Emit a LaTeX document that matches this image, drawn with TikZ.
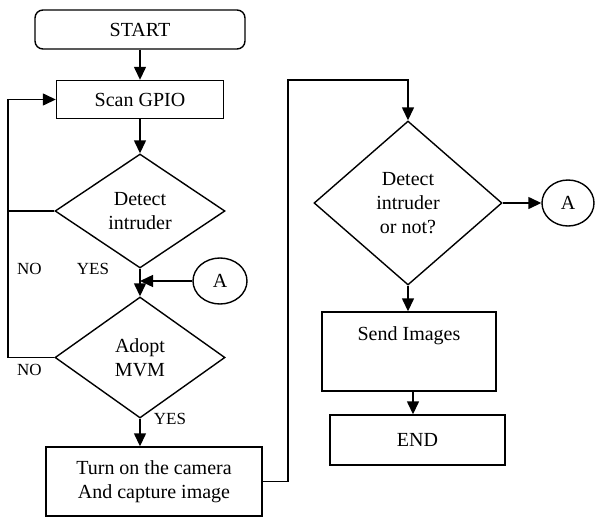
\documentclass[tikz,border=0pt]{standalone}
\usepackage{fontspec}
\setmainfont{Liberation Serif}
\usetikzlibrary{shapes.geometric,arrows.meta}
\begin{document}
\begin{tikzpicture}[x=1pt,y=-1pt,
  every node/.style={font=\fontsize{20}{24}\selectfont, align=center, inner sep=0pt},
  box/.style={draw, line width=1.4pt, rectangle},
  rbox/.style={draw, line width=1.4pt, rectangle, rounded corners=8pt},
  dia/.style={draw, line width=1.4pt, diamond},
  conn/.style={draw, line width=1.4pt, ellipse},
  lbl/.style={font=\fontsize{17}{20}\selectfont},
  line/.style={line width=1.4pt},
  arr/.style={line width=1.4pt, -{Triangle[length=13pt,width=12pt]}}]
\useasboundingbox (0,0) rectangle (595,517);
\node[rbox, minimum width=210pt, minimum height=39pt] (start) at (140,29.5) {START};
\node[box, minimum width=167pt, minimum height=38pt] (scan) at (140,99.5) {Scan GPIO};
\node[dia, minimum width=170pt, minimum height=114pt] (d1) at (140,211) {Detect\\intruder};
\node[dia, minimum width=170pt, minimum height=121pt] (d2) at (140,357.5) {Adopt\\MVM};
\node[conn, minimum width=54pt, minimum height=46pt] (a1) at (220,281) {A};
\node[box, minimum width=216pt, minimum height=69pt] (cam) at (154,481.5) {Turn on the camera\\And capture image};
\node[dia, minimum width=188pt, minimum height=164pt] (d3) at (408,203) {Detect\\intruder\\or not?};
\node[conn, minimum width=52pt, minimum height=46pt] (a2) at (568,203) {A};
\node[box, minimum width=174pt, minimum height=79pt] (send) at (409,351.5) {Send Images\\[12pt]\mbox{}};
\node[box, minimum width=175pt, minimum height=50pt] (end) at (417.5,440) {END};
\node[lbl] (no1) at (29.5,268.5) {NO};
\node[lbl] (yes1) at (93,268.5) {YES};
\node[lbl] (no2) at (29.5,370) {NO};
\node[lbl] (yes2) at (170,418.5) {YES};
\coordinate (lx) at (8,357.5);
\coordinate (j) at (140,281);
\coordinate (c1) at (288,80);
% connectors
\draw[arr] (start.south) -- (scan.north);
\draw[arr] (scan.south) -- (d1.north);
\draw[arr] (d1.south) -- (d2.north);
\draw[arr] (a1.west) -- (j);
\draw[arr] (d2.south) -- (d2.south |- cam.north);
\draw[arr] (d2.west) -- (lx) |- (scan.west);
\draw[line] (d1.west) -- (d1.west -| lx);
\draw[arr] (cam.east) -| (c1) -- (c1 -| d3.north) -- (d3.north);
\draw[arr] (d3.east) -- (a2.west);
\draw[arr] (d3.south) -- (d3.south |- send.north);
\draw[arr] (send.south -| 413,0) -- (413,0 |- end.north);
\end{tikzpicture}
\end{document}
